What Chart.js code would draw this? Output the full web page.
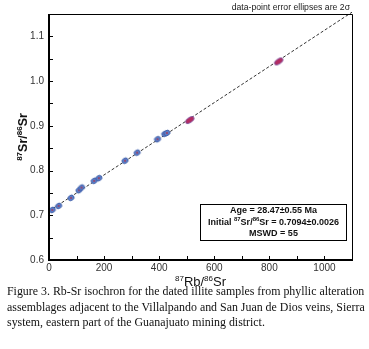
<!DOCTYPE html>
<html>
<head>
<meta charset="utf-8">
<script src="https://cdn.jsdelivr.net/npm/chart.js@4.4.1/dist/chart.umd.min.js"></script>
<style>
  html, body { margin: 0; padding: 0; background: #fff; }
  #wrap { position: relative; width: 369px; height: 349px; }
  #wrap canvas { position: absolute; left: 0; top: 0; }
  .caption {
    position: absolute; left: 7px; top: 284px; width: 362px;
    font-family: "Liberation Serif", "Times New Roman", serif;
    font-size: 11.9px; line-height: 15.5px; color: #111; white-space: nowrap;
  }
</style>
</head>
<body>
<div id="wrap">
  <canvas id="chart" width="369" height="349"></canvas>
  <div class="caption">Figure 3. Rb-Sr isochron for the dated illite samples from phyllic alteration<br>assemblages adjacent to the Villalpando and San Juan de Dios veins, Sierra<br>system, eastern part of the Guanajuato mining district.</div>
</div>
<script>
// 87Rb/86Sr vs 87Sr/86Sr
const rbSr = [12, 35, 80, 109, 118, 164, 181, 276, 320, 394, 420, 428];
const srSr = [0.712, 0.721, 0.739, 0.756, 0.762, 0.777, 0.783, 0.822, 0.840, 0.870, 0.882, 0.884];
// the two highlighted (red) analyses
const rbSrHi = [511, 834];
const srSrHi = [0.913, 1.044];
// isochron ends
const isoX = [0, 1100];
const isoY = [0.7094, 1.154];

const statLines = ['Age = 28.47\u00b10.55 Ma', 'Initial', 'MSWD = 55'];
const initialValue = ' = 0.7094\u00b10.0026';
const noteText = 'data-point error ellipses are 2\u03c3';

function zip(xs, ys) {
    return xs.map((x, i) => ({ x: x, y: ys[i] }));
}

// small ellipse images used as point style
function ellipse(rx, ry, fill, stroke, dot) {
    const c = document.createElement('canvas');
    c.width = 14; c.height = 14;
    const g = c.getContext('2d');
    g.translate(7, 7);
    g.rotate(-0.58);
    g.beginPath();
    g.ellipse(0, 0, rx, ry, 0, 0, Math.PI * 2);
    g.fillStyle = fill;
    g.fill();
    g.lineWidth = 0.8;
    g.strokeStyle = stroke;
    g.stroke();
    if (dot) {
        g.beginPath();
        g.arc(0, 0, 0.9, 0, Math.PI * 2);
        g.fillStyle = dot;
        g.fill();
    }
    return c;
}
const blueDot = ellipse(3.2, 2.6, '#5a7cc6', '#3d5ea8', '#b03048');
const redDot = ellipse(4.8, 2.5, '#b42c62', '#7b4f9e', null);

// draws a label made of normal + superscript pieces
function drawSup(ctx, parts, x, y, size, supSize, weight, align) {
    const f = s => weight + ' ' + s + 'px "Liberation Sans", Arial, sans-serif';
    let w = 0;
    parts.forEach(p => { ctx.font = f(p.sup ? supSize : size); w += ctx.measureText(p.t).width; });
    let cx = align === 'center' ? x - w / 2 : x;
    ctx.textAlign = 'left';
    ctx.textBaseline = 'alphabetic';
    parts.forEach(p => {
        ctx.font = f(p.sup ? supSize : size);
        ctx.fillText(p.t, cx, p.sup ? y - size * 0.42 : y);
        cx += ctx.measureText(p.t).width;
    });
    return w;
}

const decorPlugin = {
    id: 'decor',
    afterDraw(chart) {
        const { ctx, chartArea: a, scales } = chart;
        ctx.save();
        // frame: heavy left/bottom, thin top/right
        ctx.strokeStyle = '#000';
        ctx.lineWidth = 1;
        ctx.beginPath();
        ctx.moveTo(a.left, a.top + 0.5); ctx.lineTo(a.right + 0.5, a.top + 0.5);
        ctx.lineTo(a.right + 0.5, a.bottom);
        ctx.stroke();
        ctx.lineWidth = 2;
        ctx.beginPath();
        ctx.moveTo(a.left, a.top); ctx.lineTo(a.left, a.bottom); ctx.lineTo(a.right + 1, a.bottom);
        ctx.stroke();
        // inward ticks
        ctx.lineWidth = 1;
        ctx.beginPath();
        scales.x.ticks.forEach(t => {
            const px = Math.round(scales.x.getPixelForValue(t.value)) + 0.5;
            ctx.moveTo(px, a.bottom); ctx.lineTo(px, a.bottom - 4);
        });
        scales.y.ticks.forEach(t => {
            const py = Math.round(scales.y.getPixelForValue(t.value)) + 0.5;
            ctx.moveTo(a.left, py); ctx.lineTo(a.left + 4, py);
        });
        ctx.stroke();

        ctx.fillStyle = '#111';
        // x title
        drawSup(ctx, [{ t: '87', sup: true }, { t: 'Rb/', sup: false }, { t: '86', sup: true }, { t: 'Sr', sup: false }],
            (a.left + a.right) / 2, 286, 13, 8, 'normal', 'center');
        // y title
        ctx.save();
        ctx.translate(27, (a.top + a.bottom) / 2);
        ctx.rotate(-Math.PI / 2);
        drawSup(ctx, [{ t: '87', sup: true }, { t: 'Sr/', sup: false }, { t: '86', sup: true }, { t: 'Sr', sup: false }],
            0, 0, 12.5, 8, 'bold', 'center');
        ctx.restore();

        // note above plot
        ctx.font = '8.7px "Liberation Sans", Arial, sans-serif';
        ctx.textAlign = 'right';
        ctx.textBaseline = 'alphabetic';
        ctx.fillStyle = '#222';
        ctx.fillText(noteText, 350, 10);

        // stats box
        const bx = 200, by = 204, bw = 146, bh = 36;
        ctx.fillStyle = '#fff';
        ctx.fillRect(bx, by, bw, bh);
        ctx.lineWidth = 1;
        ctx.strokeStyle = '#000';
        ctx.strokeRect(bx + 0.5, by + 0.5, bw, bh);
        ctx.fillStyle = '#111';
        const cx = bx + bw / 2 + 0.5;
        ctx.font = 'bold 9px "Liberation Sans", Arial, sans-serif';
        ctx.textAlign = 'center';
        ctx.fillText(statLines[0], cx, 213);
        drawSup(ctx, [{ t: statLines[1] + ' ', sup: false }, { t: '87', sup: true }, { t: 'Sr/', sup: false },
            { t: '86', sup: true }, { t: 'Sr' + initialValue, sup: false }], cx, 224.5, 9, 6, 'bold', 'center');
        ctx.font = 'bold 9px "Liberation Sans", Arial, sans-serif';
        ctx.textAlign = 'center';
        ctx.fillText(statLines[2], cx, 235.5);
        ctx.restore();
    }
};

new Chart(document.getElementById('chart').getContext('2d'), {
    type: 'scatter',
    data: {
        datasets: [{
            type: 'line',
            data: zip(isoX, isoY),
            borderColor: '#333',
            borderWidth: 1,
            borderDash: [3, 2],
            pointRadius: 0,
            fill: false,
            clip: false,
            order: 3
        }, {
            data: zip(rbSr, srSr),
            pointStyle: blueDot,
            pointRadius: 4,
            order: 1
        }, {
            data: zip(rbSrHi, srSrHi),
            pointStyle: redDot,
            pointRadius: 5,
            order: 1
        }]
    },
    options: {
        responsive: false,
        animation: false,
        layout: { padding: { top: 14, right: 17, left: 0, bottom: 0 } },
        plugins: { legend: { display: false }, tooltip: { enabled: false } },
        scales: {
            x: {
                type: 'linear', min: 0, max: 1100,
                grid: { display: false, drawTicks: false },
                border: { display: false },
                ticks: {
                    stepSize: 100, padding: 2, color: '#333', maxRotation: 0, autoSkip: false,
                    font: { family: '"Liberation Sans", Arial, sans-serif', size: 10 },
                    callback: v => (v % 200 === 0 ? v : '')
                },
                afterFit: s => { s.height = 89; }
            },
            y: {
                type: 'linear', min: 0.6, max: 1.15,
                grid: { display: false, drawTicks: false },
                border: { display: false },
                ticks: {
                    stepSize: 0.05, padding: 5, color: '#333', autoSkip: false,
                    font: { family: '"Liberation Sans", Arial, sans-serif', size: 10 },
                    callback: v => {
                        const r = Math.round(v * 100);
                        return r % 10 === 0 ? (r / 100).toFixed(1) : '';
                    }
                },
                afterFit: s => { s.width = 49; }
            }
        }
    },
    plugins: [decorPlugin]
});
</script>
</body>
</html>
